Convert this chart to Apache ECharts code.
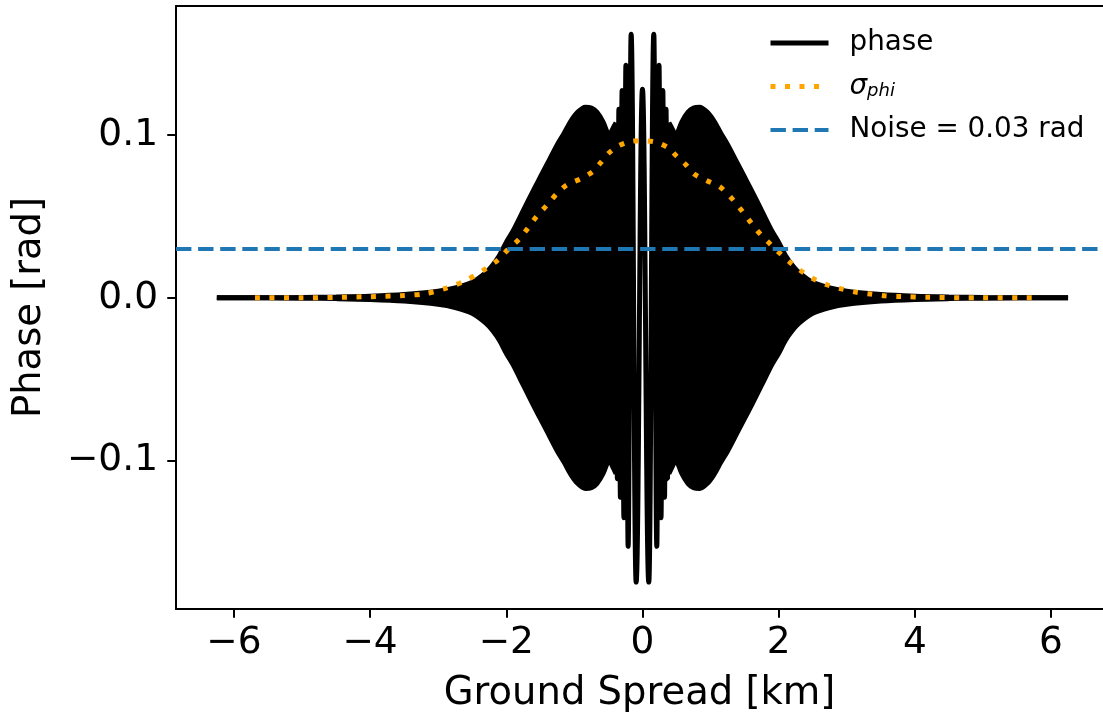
<!DOCTYPE html>
<html>
<head>
<meta charset="utf-8">
<script src="https://cdn.jsdelivr.net/npm/echarts@6/dist/echarts.min.js"></script>
<style>html,body{margin:0;padding:0;background:#fff}#c{width:1103px;height:719px}</style>
</head>
<body>
<div id="c"></div>
<script>
// ---------- data ----------
const xTicks = [-6, -4, -2, 0, 2, 4, 6];
const yTicks = [-0.1, 0.0, 0.1];
const xRange = [-6.85, 6.763];
const yRange = [-0.191, 0.1791];

// envelope of the densely oscillating phase signal (left / right of the resolved centre)
const envXLeft  = [-6.25,-5.5,-5.0,-4.5,-4.0,-3.5,-3.0,-2.75,-2.5,-2.3,-2.2,-2.1,-2.0,-1.9,-1.75,-1.6,-1.5,-1.4,-1.25,-1.15,-1.05,-0.95,-0.84,-0.75,-0.67,-0.58,-0.5,-0.48,-0.45,-0.42,-0.387];
const envUpLeft = [0,0,0.0002,0.0005,0.001,0.002,0.004,0.006,0.0095,0.0155,0.020,0.026,0.034,0.041,0.0535,0.066,0.074,0.082,0.094,0.101,0.1085,0.114,0.117,0.1165,0.114,0.108,0.0995,0.099,0.1025,0.105,0.1075];
const envLoLeft = [0,0,-0.0002,-0.0005,-0.001,-0.002,-0.004,-0.006,-0.0095,-0.0155,-0.020,-0.026,-0.034,-0.041,-0.0535,-0.066,-0.074,-0.082,-0.094,-0.101,-0.1085,-0.114,-0.117,-0.1165,-0.114,-0.108,-0.0995,-0.099,-0.1025,-0.105,-0.108];
const envXRight  = [0.387,0.42,0.45,0.48,0.5,0.58,0.67,0.75,0.84,0.95,1.05,1.15,1.25,1.4,1.5,1.6,1.75,1.9,2.0,2.1,2.2,2.3,2.5,2.75,3.0,3.5,4.0,4.5,5.0,5.5,6.25];
const envUpRight = [0.1075,0.105,0.1025,0.099,0.0995,0.108,0.114,0.1165,0.117,0.114,0.1085,0.101,0.094,0.082,0.074,0.066,0.0535,0.041,0.034,0.026,0.020,0.0155,0.0095,0.006,0.004,0.002,0.001,0.0005,0.0002,0,0];
const envLoRight = [-0.108,-0.105,-0.1025,-0.099,-0.0995,-0.108,-0.114,-0.1165,-0.117,-0.114,-0.1085,-0.101,-0.094,-0.082,-0.074,-0.066,-0.0535,-0.041,-0.034,-0.026,-0.020,-0.0155,-0.0095,-0.006,-0.004,-0.002,-0.001,-0.0005,-0.0002,0,0];

// resolved oscillation extremes near the centre
const centerX = [-0.3873,-0.3682,-0.3461,-0.3240,-0.2990,-0.2725,-0.2430,-0.2106,-0.1664,-0.0928,0,0.0928,0.1664,0.2106,0.2430,0.2725,0.2990,0.3240,0.3461,0.3682,0.3873];
const centerY = [0.1075,-0.111,0.1157,-0.1224,0.1273,-0.135,0.1428,-0.1525,0.1618,-0.1745,0.128,-0.1745,0.1618,-0.1525,0.1428,-0.135,0.1273,-0.1224,0.1157,-0.111,0.1075];

// sigma_phi curve
const sigmaX = [-5.69,-5.0,-4.5,-4.0,-3.52,-3.2,-2.88,-2.6,-2.31,-2.12,-1.98,-1.82,-1.69,-1.56,-1.41,-1.26,-1.11,-0.91,-0.73,-0.62,-0.49,-0.35,-0.18,0.0,0.21,0.38,0.50,0.63,0.76,0.94,1.13,1.29,1.43,1.56,1.69,1.84,2.0,2.16,2.33,2.51,2.71,2.92,3.13,3.35,3.56,3.78,4.2,5.0,5.72];
const sigmaY = [0,0,0.0003,0.0007,0.0014,0.0025,0.006,0.0105,0.0176,0.0233,0.0294,0.0356,0.0423,0.0497,0.0566,0.0638,0.0693,0.073,0.0775,0.0826,0.089,0.0933,0.0959,0.0965,0.0953,0.092,0.087,0.082,0.076,0.072,0.0683,0.062,0.055,0.048,0.041,0.0345,0.028,0.022,0.0165,0.0117,0.008,0.0055,0.0035,0.0023,0.0012,0.0008,0.0003,0,0];

const noiseLevel = 0.03;
const seriesNames = ['phase', 'σ_phi', 'Noise = 0.03 rad'];

// ---------- chart ----------
const zip = (xs, ys) => xs.map((x, i) => [x, ys[i]]);
const FONT = 'DejaVu Sans';
const minus = s => s.replace('-', '\u2212');
const BLACK = '#000', ORANGE = '#ffa500', BLUE = '#1f77b4';

// upper fills reach slightly below zero (inside the line width) so no seam shows at y = 0
const envSeries = (xs, ys, origin) => ({
  type: 'line', data: zip(xs, ys), symbol: 'none', smooth: 0.3,
  lineStyle: { color: BLACK, width: 5 }, itemStyle: { color: BLACK },
  areaStyle: { color: BLACK, opacity: 1, origin: origin }, silent: true, z: 2
});

const spine = { show: true, onZero: false, lineStyle: { color: BLACK, width: 2 } };
const tick = vals => ({ show: true, inside: false, length: 8.75, lineStyle: { color: BLACK, width: 2 }, customValues: vals });

const chart = echarts.init(document.getElementById('c'), null, { renderer: 'canvas' });
chart.setOption({
  animation: false,
  backgroundColor: '#fff',
  grid: { left: 176, top: 6, width: 927, height: 603, show: false },
  legend: {
    data: [
      { name: seriesNames[0], lineStyle: { width: 5 } },
      { name: seriesNames[1], lineStyle: { width: 5 } },
      { name: seriesNames[2], lineStyle: { width: 4 } }
    ],
    orient: 'vertical', left: 768, top: 27, padding: 0,
    itemWidth: 58, itemHeight: 14, itemGap: 11.5, selectedMode: false,
    itemStyle: { opacity: 0 },
    lineStyle: { width: 5 },
    textStyle: { fontFamily: FONT, fontSize: 27.8, color: BLACK, lineHeight: 32, padding: [0, 0, 0, 16],
      rich: {
        sig: { fontFamily: FONT, fontSize: 27.8, fontStyle: 'italic', color: BLACK, lineHeight: 32 },
        sub: { fontFamily: FONT, fontSize: 18, fontStyle: 'italic', color: BLACK, lineHeight: 32, padding: [10, 0, 0, 0] }
      } },
    formatter: n => n === 'σ_phi' ? '{sig|σ}{sub|phi}' : n
  },
  xAxis: [{
    type: 'value', min: xRange[0], max: xRange[1], position: 'bottom',
    name: 'Ground Spread [km]', nameLocation: 'middle', nameGap: 65,
    nameTextStyle: { fontFamily: FONT, fontSize: 38.5, color: BLACK },
    axisLine: spine, splitLine: { show: false },
    axisTick: tick(xTicks),
    axisLabel: { customValues: xTicks, fontFamily: FONT, fontSize: 37.5, color: BLACK, margin: 15, formatter: v => minus(String(v)) }
  }, {
    type: 'value', min: xRange[0], max: xRange[1], position: 'top',
    axisLine: spine, axisTick: { show: false }, axisLabel: { show: false }, splitLine: { show: false }
  }],
  yAxis: {
    type: 'value', min: yRange[0], max: yRange[1],
    name: 'Phase [rad]', nameLocation: 'middle', nameGap: 127,
    nameTextStyle: { fontFamily: FONT, fontSize: 38.5, color: BLACK },
    axisLine: spine, splitLine: { show: false },
    axisTick: tick(yTicks),
    axisLabel: { customValues: yTicks, fontFamily: FONT, fontSize: 37.5, color: BLACK, margin: 18, formatter: v => minus(v.toFixed(1)) }
  },
  series: [
    envSeries(envXLeft, envUpLeft, -0.0012),
    envSeries(envXLeft, envLoLeft, 0),
    envSeries(envXRight, envUpRight, -0.0012),
    envSeries(envXRight, envLoRight, 0),
    {
      name: seriesNames[0], type: 'line', data: zip(centerX, centerY), symbol: 'none',
      smooth: 0.4, smoothMonotone: 'x',
      lineStyle: { color: BLACK, width: 5 }, itemStyle: { color: BLACK }, z: 3
    },
    {
      name: seriesNames[1], type: 'line', data: zip(sigmaX, sigmaY), symbol: 'none', smooth: 0.3,
      lineStyle: { color: ORANGE, width: 5, type: [5, 9.5], cap: 'butt' }, itemStyle: { color: ORANGE }, z: 4
    },
    {
      name: seriesNames[2], type: 'line', data: zip(xRange, [noiseLevel, noiseLevel]), symbol: 'none',
      lineStyle: { color: BLUE, width: 4, type: [15.4, 6.7] }, itemStyle: { color: BLUE }, z: 5
    }
  ]
});
</script>
</body>
</html>
